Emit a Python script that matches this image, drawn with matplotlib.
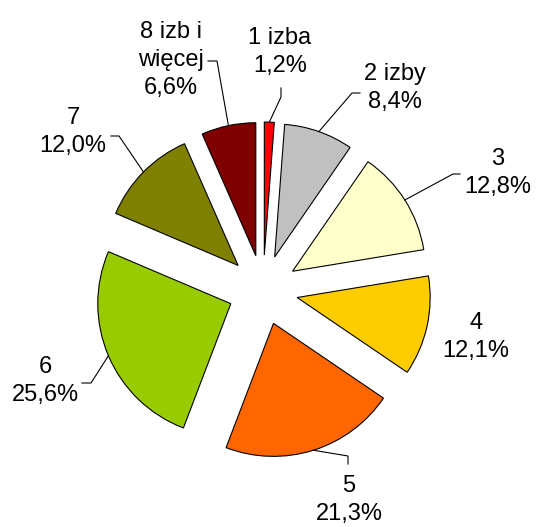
import numpy as np
import matplotlib
matplotlib.use("Agg")
import matplotlib.pyplot as plt

plt.rcParams['font.family'] = ['Liberation Sans', 'DejaVu Sans']

categories = ["1 izba", "2 izby", "3", "4", "5", "6", "7", "8 izb i\nwięcej"]
values = [1.2, 8.4, 12.8, 12.1, 21.3, 25.6, 12.0, 6.6]
colors = ["#FF0000", "#C0C0C0", "#FFFFCC", "#FFCC00", "#FF6600", "#99CC00", "#808000", "#800000"]

W, H = 537, 527
CX, CY, R = 263, 290, 133
EXPL = 0.263

fig = plt.figure(figsize=(W / 100, H / 100), dpi=100)
ax = fig.add_axes([0, 0, 1, 1])

wedges, _ = ax.pie(values, colors=colors, startangle=90, counterclock=False,
                   explode=[EXPL] * len(values), radius=1,
                   wedgeprops=dict(edgecolor="black", linewidth=0.8))

ax.set_aspect('auto')
ax.set_xlim(-CX / R, (W - CX) / R)
ax.set_ylim(-(H - CY) / R, CY / R)
ax.axis('off')


def px(x, y):
    return ((x - CX) / R, (CY - y) / R)


# label layout (pixel positions): text centre, elbow, stub end
layout = [
    ((280, 52), (281, 97), (281, 88)),
    ((395, 88), (352, 93), (360, 93)),
    ((498, 173), (453, 174), (460, 174)),
    ((476, 337), None, None),
    ((349, 500), (348, 456), (348, 464)),
    ((45, 381), (91, 383), (82, 383)),
    ((73, 132), (119, 136), (111, 136)),
    ((171, 60), (217, 61), (208, 61)),
]

total = sum(values)
cum = 0.0
for cat, v, (tpos, elbow, stub) in zip(categories, values, layout):
    mid = np.deg2rad((cum + v / 2) / total * 360.0)
    cum += v
    d = np.array([np.sin(mid), np.cos(mid)])
    anchor = (1 + EXPL) * d
    label = f"{cat}\n{v:.1f}%".replace('.', ',')
    tx, ty = px(*tpos)
    ax.text(tx, ty, label, ha='center', va='center', multialignment='center',
            fontsize=17, linespacing=1.33, color='black')
    if elbow is not None:
        ex, ey = px(*elbow)
        sx, sy = px(*stub)
        ax.plot([anchor[0], ex, sx], [anchor[1], ey, sy], color='black', lw=0.8,
                solid_joinstyle='miter')

fig.savefig("out.png", dpi=100)
